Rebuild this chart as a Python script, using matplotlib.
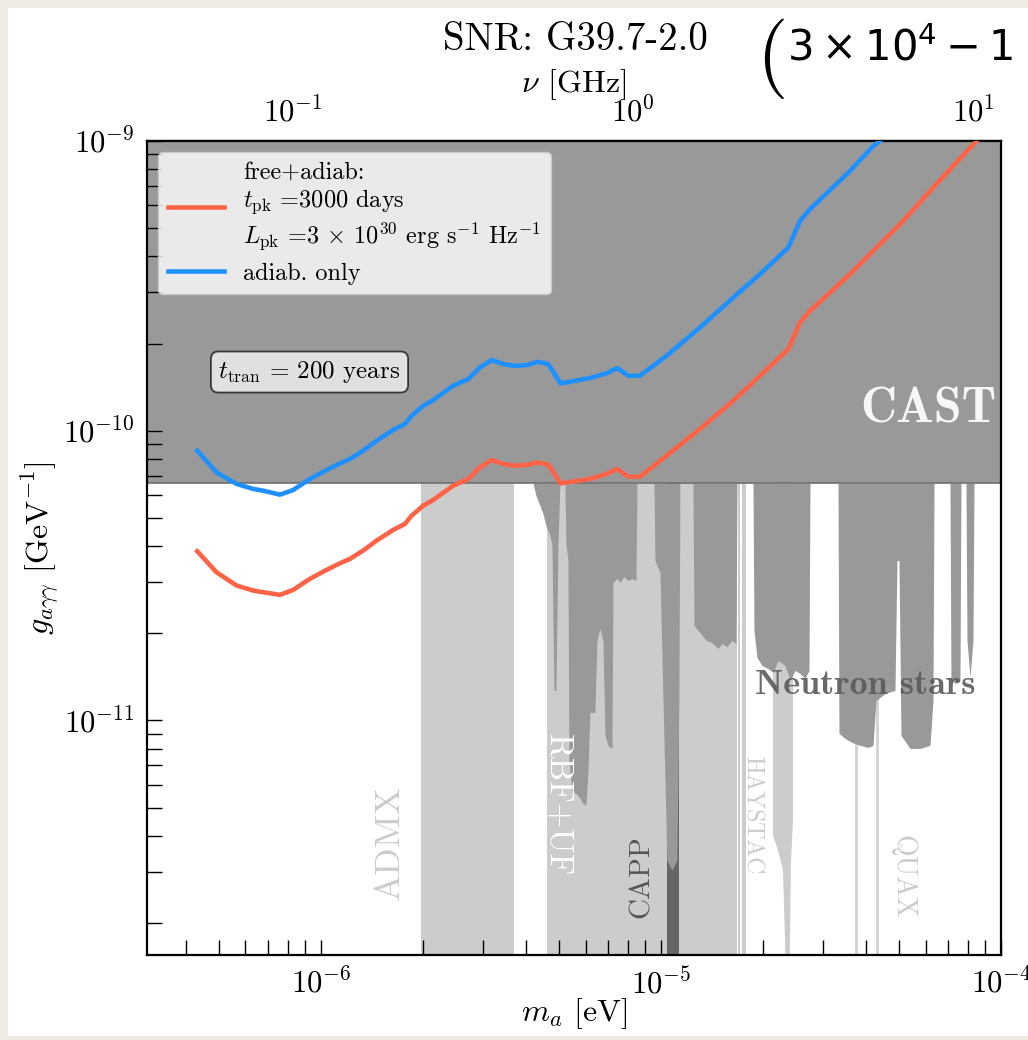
import numpy as np
import matplotlib
matplotlib.use("Agg")
import matplotlib.pyplot as plt
from matplotlib.patches import Rectangle

plt.rcParams['font.family'] = ['cmr10']
plt.rcParams['mathtext.fontset'] = 'cm'
plt.rcParams['axes.formatter.use_mathtext'] = True

# ---------------- data (masses in micro-eV, couplings in 1e-11 GeV^-1) -------------
m_red = [0.433, 0.493, 0.565, 0.632, 0.676, 0.758, 0.829, 0.928, 1.039, 1.137, 1.217,
         1.331, 1.458, 1.632, 1.766, 1.849, 2.0, 2.139, 2.449, 2.712, 2.935, 3.178,
         3.438, 3.721, 4.027, 4.356, 4.661, 5.07, 6.182, 6.923, 7.437, 8.013, 8.677,
         10.39, 13.02, 16.32, 19.55, 23.68, 25.63, 27.43, 35.96, 50.47, 70.79, 83.86, 89.7]
g_red = [3.836, 3.247, 2.921, 2.808, 2.770, 2.713, 2.823, 3.081, 3.309, 3.486, 3.610,
         3.857, 4.176, 4.547, 4.768, 5.092, 5.513, 5.768, 6.461, 6.815, 7.470, 7.925,
         7.677, 7.574, 7.616, 7.775, 7.635, 6.581, 6.815, 7.091, 7.378, 6.941, 6.941,
         8.200, 10.14, 12.69, 15.48, 19.12, 23.63, 25.93, 34.70, 51.62, 79.87, 98.65, 108.0]

m_blue = [0.433, 0.493, 0.565, 0.632, 0.676, 0.758, 0.829, 0.928, 1.039, 1.137, 1.217,
          1.331, 1.458, 1.632, 1.766, 1.849, 2.0, 2.139, 2.449, 2.712, 2.935, 3.178,
          3.438, 3.721, 4.027, 4.356, 4.661, 5.07, 6.182, 6.923, 7.437, 8.013, 8.677,
          10.39, 13.02, 16.32, 19.55, 23.68, 25.63, 27.43, 35.96, 42.11, 48.13]
g_blue = [8.531, 7.181, 6.551, 6.295, 6.210, 6.016, 6.244, 6.815, 7.320, 7.713, 7.987,
          8.531, 9.236, 10.06, 10.55, 11.26, 12.20, 12.76, 14.30, 15.08, 16.53, 17.53,
          16.98, 16.75, 16.85, 17.30, 16.98, 14.56, 15.20, 15.79, 16.45, 15.48, 15.48,
          18.14, 22.71, 28.82, 34.70, 42.87, 52.98, 58.14, 78.81, 96.11, 108.3]

cast_g = 6.6  # CAST limit

# haloscope exclusion bands (micro-eV)
admx_band = [1.965, 3.695]
rbf_uf_capp_band = [4.630, 16.73]
capp_dark_band = [10.41, 11.29]
haystac_bands = [[16.85, 17.08], [17.37, 17.73]]
thin_bands = [[30.30, 30.45], [37.21, 37.85], [43.03, 43.91]]
haystac2_m = [21.35, 22.09, 22.85, 23.48, 23.80, 24.13, 24.45]
haystac2_g = [0.401, 0.356, 0.304, 0.10, 0.10, 0.329, 0.452]

# neutron-star limits (lower edge of excluded region)
ns_m = [4.203, 4.290, 4.407, 4.497, 4.589, 4.715, 4.779, 4.845, 4.911, 4.978, 5.045,
        5.219, 5.254, 5.326, 5.363, 5.473, 5.701, 5.897, 6.018, 6.100, 6.182, 6.395,
        6.482, 6.615, 6.751, 6.843, 6.985, 7.176, 7.225, 7.424, 7.576, 7.784, 7.998,
        8.217, 8.443, 8.500, 9.537, 9.603, 9.933, 10.14, 10.41, 10.77, 11.14, 11.29,
        11.37, 12.42, 12.51, 13.02, 13.57, 14.13, 14.71, 15.11, 15.63, 16.18, 16.62,
        16.73, 18.65, 18.77, 19.16, 19.82, 20.64, 21.35, 22.09, 23.16, 23.96, 24.79,
        25.63, 26.52, 27.25, 27.43, 33.16, 33.38, 34.77, 36.46, 38.48, 40.62, 42.03,
        42.89, 45.59, 48.77, 49.44, 50.12, 50.80, 54.01, 57.80, 61.82, 63.10, 63.53,
        70.79, 71.27, 73.72, 75.75, 76.26, 78.88, 79.43, 81.06, 82.72, 83.29]
ns_g = [6.6, 5.970, 5.513, 5.173, 4.704, 4.345, 4.013, 1.269, 1.269, 4.013, 6.6,
        6.6, 4.078, 3.562, 0.7278, 0.5736, 0.5513, 0.5173, 0.5092, 0.6723, 1.066, 1.066,
        1.888, 2.076, 1.888, 0.8876, 0.8201, 0.8006, 2.991, 3.088, 2.991, 3.138, 3.040,
        3.088, 3.040, 6.6, 6.6, 3.562, 3.238, 1.172, 0.3290, 0.3040, 0.3290, 1.172,
        6.6, 6.6, 2.126, 2.011, 1.888, 1.858, 1.771, 1.843, 1.800, 1.888, 1.843,
        6.6, 6.6, 2.043, 1.649, 1.548, 1.511, 1.464, 1.610, 1.548, 1.374, 1.487,
        1.453, 1.396, 1.487, 6.6, 6.6, 0.9020, 0.8667, 0.8396, 0.8201, 0.8071, 0.8201,
        1.172, 1.239, 1.269, 3.562, 3.562, 0.8876, 0.8006, 0.8006, 0.8201, 1.172, 6.6,
        6.6, 1.374, 1.341, 1.374, 6.6, 6.6, 1.888, 1.407, 1.888, 6.6]

xlim = (3.08e-7, 1e-4)
ylim = (1.55e-12, 1e-9)

ueV = 1e-6
g11 = 1e-11

# ---------------- figure ----------------
fig = plt.figure(figsize=(10.28, 10.40), dpi=100)
fig.patch.set_facecolor('#efeae4')
fig.add_artist(Rectangle((8 / 1028, 4 / 1040), 1.0, 1 - 12 / 1040,
                         transform=fig.transFigure, facecolor='white',
                         edgecolor='none', zorder=-10))

ax = fig.add_axes([147 / 1028, 1 - 955 / 1040, 854 / 1028, 814 / 1040])
ax.set_xscale('log')
ax.set_yscale('log')
ax.set_xlim(*xlim)
ax.set_ylim(*ylim)

top = 1e-8
light = '#cccccc'
ns_col = '#999999'

# haloscopes
for lo, hi in [admx_band, rbf_uf_capp_band]:
    ax.fill_between([lo * ueV, hi * ueV], 1e-13, top, color=light, lw=0, zorder=0.5)
for lo, hi in haystac_bands:
    ax.fill_between([lo * ueV, hi * ueV], 1e-13, top, color=light, lw=0, zorder=0.5)
for lo, hi in thin_bands:
    ax.fill_between([lo * ueV, hi * ueV], 1e-13, top, color='#d4d4d4', lw=0, zorder=0.5)
ax.fill_between(np.array(haystac2_m) * ueV, np.array(haystac2_g) * g11, top,
                color=light, lw=0, zorder=0.5)
ax.fill_between([capp_dark_band[0] * ueV, capp_dark_band[1] * ueV], 1e-13, top,
                color='#666666', lw=0, zorder=0.6)

# neutron stars
ax.fill_between(np.array(ns_m) * ueV, np.array(ns_g) * g11, cast_g * g11,
                color=ns_col, lw=0, zorder=0.8)

# CAST
ax.fill_between([1e-8, 1e-3], cast_g * g11, top, color=ns_col, lw=0, zorder=0.9)
ax.axhline(cast_g * g11, color='#6f6f6f', lw=1.2, zorder=0.95)

# curves
l1, = ax.plot(np.array(m_red) * ueV, np.array(g_red) * g11, color='#ff6347', lw=3.3,
              zorder=4, solid_joinstyle='round',
              label='free+adiab:\n$t_{\\rm pk}$ =3000 days\n'
                    '$L_{\\rm pk}$ =3 $\\times$ 10$^{30}$ erg s$^{-1}$ Hz$^{-1}$')
l2, = ax.plot(np.array(m_blue) * ueV, np.array(g_blue) * g11, color='#1e90ff', lw=3.3,
              zorder=4, solid_joinstyle='round', label='adiab. only')

# texts
ax.text(0.9953, 0.6695, 'CAST', transform=ax.transAxes, ha='right', va='center',
        fontsize=36, family='cmb10', color='#f7f7f7', zorder=6)
ax.text(0.8407, 0.3305, 'Neutron stars', transform=ax.transAxes, ha='center',
        va='center', fontsize=26, family='cmb10', color='#5a5a5a', alpha=0.9, zorder=6)
ax.text(0.2845, 0.1376, 'ADMX', transform=ax.transAxes, ha='center', va='center',
        rotation=90, fontsize=26, color='#cccccc', zorder=6)
ax.text(0.4813, 0.1843, 'RBF+UF', transform=ax.transAxes, ha='center', va='center',
        rotation=-90, fontsize=24, color='white', zorder=6)
ax.text(0.5796, 0.0958, 'CAPP', transform=ax.transAxes, ha='center', va='center',
        rotation=90, fontsize=21, color='#555555', zorder=6)
ax.text(0.7084, 0.172, 'HAYSTAC', transform=ax.transAxes, ha='center', va='center',
        rotation=-90, fontsize=17, color='#cccccc', zorder=6)
ax.text(0.8852, 0.0958, 'QUAX', transform=ax.transAxes, ha='center', va='center',
        rotation=-90, fontsize=20, color='#cccccc', zorder=6)
ax.text(0.1903, 0.7162, r'$t_{\rm tran}$ = 200 years', transform=ax.transAxes,
        ha='center', va='center', fontsize=18, zorder=6,
        bbox=dict(boxstyle='round,pad=0.3', facecolor='white', edgecolor='black',
                  alpha=0.7, lw=1.3))

leg = ax.legend(handles=[l1, l2], loc='upper left', fontsize=17.5, handlelength=2.3,
                framealpha=0.8, fancybox=True, borderaxespad=0.45, labelspacing=0.4)
leg.set_zorder(7)

# axes styling
ax.tick_params(which='both', direction='in', top=False, right=False, width=1,
               length=11, labelsize=22, pad=9)
for s in ax.spines.values():
    s.set_linewidth(1.6)
ax.set_xlabel(r'$m_a$ [eV]', fontsize=23, labelpad=-3)
ax.set_ylabel(r'$g_{a\gamma\gamma}$ [GeV$^{-1}$]', fontsize=23, labelpad=1)


def m2nu(m):
    return np.asarray(m) / (2 * 4.135667e-15) / 1e9


def nu2m(nu):
    return np.asarray(nu) * 1e9 * 2 * 4.135667e-15


secax = ax.secondary_xaxis('top', functions=(m2nu, nu2m))
secax.tick_params(which='both', direction='in', width=1, length=11, labelsize=22, pad=9)
secax.set_xlabel(r'$\nu$ [GHz]', fontsize=23, labelpad=4)
secax.spines['top'].set_linewidth(1.6)

fig.text(575 / 1028, 1 - 40 / 1040, 'SNR: G39.7-2.0', ha='center', va='center',
         fontsize=28)
fig.text(756 / 1028, 1 - 59 / 1040, '(', ha='left', va='center', fontsize=58)
fig.text(787 / 1028, 1 - 47 / 1040,
         r'$3\times10^4 - 1\times10^5$ years)',
         ha='left', va='center', fontsize=30, math_fontfamily='dejavusans',
         family='DejaVu Sans')

fig.savefig('out.png', dpi=100, facecolor=fig.get_facecolor())
